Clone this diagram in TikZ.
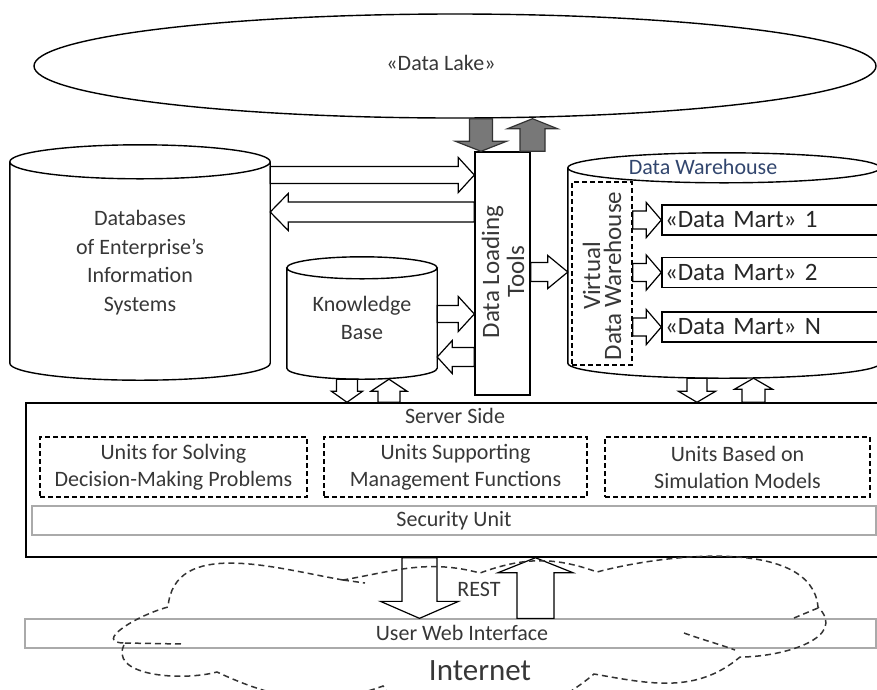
\documentclass[tikz,border=0pt]{standalone}
\usepackage{fontspec}
\setmainfont{Carlito}
\usetikzlibrary{shapes.geometric,calc}

\definecolor{ink}{RGB}{55,55,55}
\definecolor{dwblue}{RGB}{50,70,110}
\definecolor{stripgray}{RGB}{170,170,170}
\definecolor{feedgray}{RGB}{120,120,120}

\tikzset{
  outline/.style={draw=black, line width=1.4pt},
  txt/.style={text=ink, font=\fontsize{22}{28}\selectfont, align=center, inner sep=0pt},
  drumbody/.style={txt, font=\fontsize{22}{28.5}\selectfont},
  unitbox/.style={draw=black, line width=1.4pt, dash pattern=on 5pt off 3pt, inner sep=0pt},
  strip/.style={draw=stripgray, line width=1.3pt, inner sep=0pt},
  mart/.style={outline, text=black!85, font=\fontsize{25}{25}\selectfont, text width=210pt,
    align=left, inner xsep=3pt, inner ysep=0pt, minimum height=30pt},
  flow/.style={draw=black, line width=1.2pt, fill=white, line join=miter},
  feed/.style={fill=feedgray, draw=black!80},
  netline/.style={draw=black!80, line width=1.5pt, dash pattern=on 6pt off 4pt},
}

% cylinder outline round a node: #1 node, #2 depth of the end caps
\newcommand\drum[2]{%
  \draw[outline] let \p1=(#1.north west), \p2=(#1.south east), \n1={(\x2-\x1)/2} in
    ([yshift=-#2]#1.north) ellipse [x radius=\n1*1pt, y radius=#2]
    (\x1,{\y1-#2}) -- (\x1,{\y2+#2})
    arc [start angle=180, end angle=360, x radius=\n1*1pt, y radius=#2]
    -- (\x2,{\y1-#2});}

% block arrow from #2 to #3: half shaft #4, half head #5, head length #6
\newcommand\barrow[6][]{%
  \path #2 coordinate (tail) #3 coordinate (tip);
  \path ($(tip)!#6!(tail)$) coordinate (neck);
  \draw[flow,#1] ($(tail)!#4!90:(tip)$) -- ($(neck)!#4!90:(tip)$)
    -- ($(neck)!#5!90:(tip)$) -- (tip) -- ($(neck)!#5!-90:(tip)$)
    -- ($(neck)!#4!-90:(tip)$) -- ($(tail)!#4!-90:(tip)$) -- cycle;}

\begin{document}
\begin{tikzpicture}[x=1pt,y=1pt]
\useasboundingbox (0,-689) rectangle (877,0);

% lake
\node[ellipse, outline, minimum width=842pt, minimum height=104pt, inner sep=0pt] (lake) at (455,-66) {};
\node[txt] (laketext) at (441,-63) {«Data Lake»};

% stores
\node[drumbody, minimum width=260pt, minimum height=235pt] (db) at (140,-262.5) {Databases\\of Enterprise's\\Information\\Systems};
\node[drumbody, minimum width=150pt, minimum height=122pt] (kb) at (362,-318) {Knowledge\\Base};
\node[drumbody, minimum width=312pt, minimum height=225pt] (dw) at (724,-265.5) {};
\drum{db}{17pt}
\drum{kb}{11pt}
\drum{dw}{15pt}
\node[txt, text=dwblue] (dwname) at (703,-167) {Data Warehouse};

% loading tools
\node[outline, minimum width=55pt, minimum height=243pt, inner sep=0pt] (dlt) at (502.5,-273.5) {};
\node[txt, rotate=90, font=\fontsize{25}{25}\selectfont] (dlttext) at (503,-272) {Data Loading\\Tools};

% virtual warehouse and marts
\node[unitbox, minimum width=60pt, minimum height=183pt] (vdw) at (602,-273.5) {};
\node[txt, rotate=90, font=\fontsize{25}{21}\selectfont] (vdwtext) at (602,-276) {Virtual\\Data Warehouse};
\node[mart] (mart1) at (770,-220) {«Data Mart» 1};
\node[mart] (mart2) at (770,-272.5) {«Data Mart» 2};
\node[mart] (martn) at (770,-327) {«Data Mart» N};

% server side
\node[outline, minimum width=853pt, minimum height=154pt, inner sep=0pt] (server) at (452.5,-480) {};
\node[txt] (servertext) at (455,-416) {Server Side};
\node[unitbox, txt, font=\fontsize{22}{27}\selectfont, minimum width=267pt, minimum height=60pt] (unit1) at (173.5,-467) {Units for Solving\\Decision-Making Problems};
\node[unitbox, txt, font=\fontsize{22}{27}\selectfont, minimum width=263pt, minimum height=60pt] (unit2) at (455.5,-467) {Units Supporting\\Management Functions};
\node[unitbox, txt, font=\fontsize{22}{27}\selectfont, minimum width=265pt, minimum height=60pt] (unit3) at (737.5,-467) {Units Based on\\Simulation Models};
\node[strip, txt, minimum width=844pt, minimum height=29pt] (security) at (454,-520.5) {Security Unit};

% user side
\node[strip, minimum width=851pt, minimum height=29pt] (uwi) at (450.5,-633.5) {};
\node[txt] (uwitext) at (462,-633) {User Web Interface};

% lake feeds
\barrow[feed]{(lake.south -| 481,0)}{(dlt.north -| 481,0)}{11.5pt}{25.5pt}{10pt}
\barrow[feed]{(dlt.north -| 532.5,0)}{(lake.south -| 532.5,0)}{12.5pt}{25pt}{10pt}

% loading flows
\barrow{(db.east |- 0,-175)}{(dlt.west |- 0,-175)}{8.5pt}{17.5pt}{16pt}
\barrow{(dlt.west |- 0,-212)}{(db.east |- 0,-212)}{10pt}{18.5pt}{18pt}
\barrow{(kb.east |- 0,-314)}{(dlt.west |- 0,-314)}{8.5pt}{17.5pt}{16pt}
\barrow{(dlt.west |- 0,-357)}{(kb.east |- 0,-357)}{9.5pt}{16.5pt}{15pt}
\barrow{(dlt.east |- 0,-272)}{(dw.west |- 0,-272)}{9.5pt}{16.5pt}{20pt}
\barrow{(vdw.east |- mart1.west)}{(mart1.west)}{9pt}{17.5pt}{15pt}
\barrow{(vdw.east |- mart2.west)}{(mart2.west)}{9pt}{17.5pt}{15pt}
\barrow{(vdw.east |- martn.west)}{(martn.west)}{9pt}{17.5pt}{15pt}

% to and from the server
\barrow{(kb.south -| 347,0)}{(server.north -| 347,0)}{10.5pt}{15.5pt}{11pt}
\barrow{(server.north -| 389,0)}{(kb.south -| 389,0)}{11pt}{18pt}{12pt}
\barrow{(dw.south -| 697,0)}{(server.north -| 697,0)}{10pt}{18.5pt}{11pt}
\barrow{(server.north -| 753.5,0)}{(dw.south -| 753.5,0)}{11.5pt}{19pt}{11pt}
\barrow{(server.south -| 419.5,0)}{(uwi.north -| 419.5,0)}{17.5pt}{39pt}{17pt}
\barrow{(uwi.north -| 535.5,0)}{(server.south -| 535.5,0)}{18.5pt}{37.5pt}{15pt}

% internet cloud
\draw[netline] (343,-580) to[out=170,in=85] (168,-607)
  to[out=195,in=180,looseness=1.5] (125,-643)
  to[out=240,in=195] (217,-672)
  to[out=-25,in=200] (383,-686)
  to[out=-55,in=220] (594,-674)
  to[out=-10,in=220] (740,-657)
  to[out=0,in=-45,looseness=1.2] (818,-607)
  to[out=95,in=15,looseness=0.8] (597,-572)
  to[out=160,in=20] (480,-573)
  to[out=165,in=10] (343,-580);
\draw[netline] (125,-643) -- (182,-644);
\draw[netline] (343,-580) -- (365,-583);
\draw[netline] (684,-633) to[out=-20,in=160] (735,-650);
\draw[netline] (794,-618) -- (818,-608);

\node[txt] (rest) at (479,-589) {REST};
\node[txt, font=\fontsize{31}{31}\selectfont] (internet) at (480,-671) {Internet};
\end{tikzpicture}
\end{document}
